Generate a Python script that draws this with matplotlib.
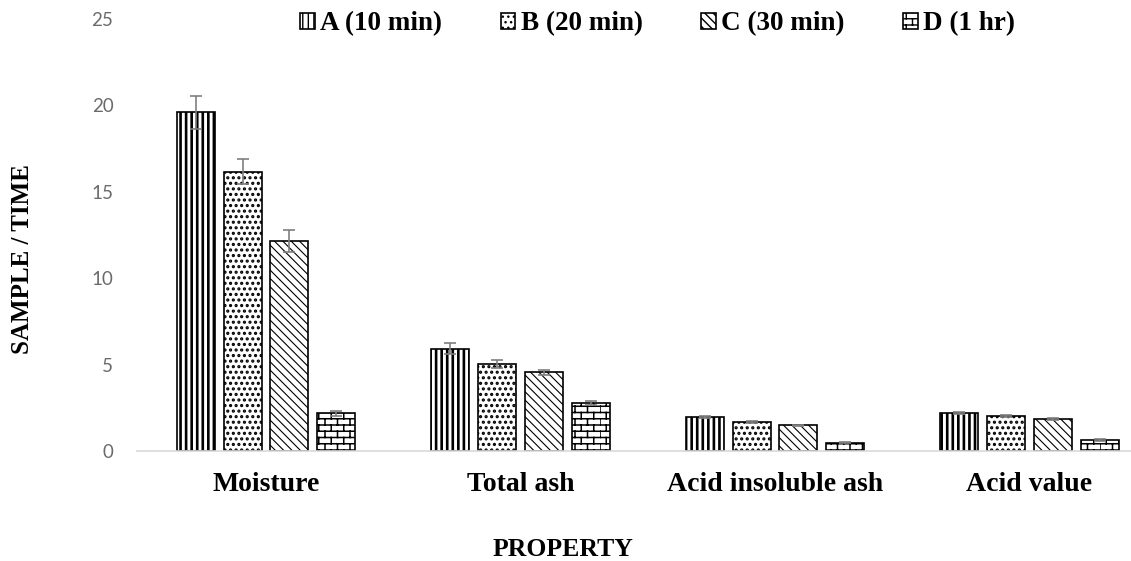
import numpy as np
import matplotlib
matplotlib.use("Agg")
import matplotlib.pyplot as plt
import matplotlib.hatch as mhatch


# ---- custom brick hatch (uses the '*' character) ----
class BrickHatch(mhatch.HatchPatternBase):
    def __init__(self, hatch, density):
        n = hatch.count('*')
        self.rows = 16 * n
        self.cols = 8 * n
        self.num_vertices = 2 * (self.rows + self.rows * self.cols)

    def set_vertices_and_codes(self, vertices, codes):
        from matplotlib.path import Path
        i = 0
        for k in range(self.rows):
            y = k / self.rows
            vertices[i] = (0.0, y); codes[i] = Path.MOVETO; i += 1
            vertices[i] = (1.0, y); codes[i] = Path.LINETO; i += 1
        for k in range(self.rows):
            y0 = k / self.rows
            y1 = (k + 1) / self.rows
            off = 0.5 * (k % 2)
            for j in range(self.cols):
                x = (j + off) / self.cols
                vertices[i] = (x, y0); codes[i] = Path.MOVETO; i += 1
                vertices[i] = (x, y1); codes[i] = Path.LINETO; i += 1


mhatch._hatch_types = [t for t in mhatch._hatch_types
                       if t.__name__ != "Stars"] + [BrickHatch]

# ---- data ----
categories = ["Moisture", "Total ash", "Acid insoluble ash", "Acid value"]
series_names = ["A (10 min)", "B (20 min)", "C (30 min)", "D (1 hr)"]
A_vals = [19.6, 5.93, 1.95, 2.18]
B_vals = [16.17, 5.02, 1.68, 2.03]
C_vals = [12.15, 4.55, 1.49, 1.85]
D_vals = [2.18, 2.78, 0.48, 0.64]
A_err = [0.95, 0.30, 0.05, 0.05]
B_err = [0.70, 0.23, 0.05, 0.05]
C_err = [0.65, 0.16, 0.03, 0.04]
D_err = [0.15, 0.13, 0.03, 0.04]
y_ticks = [0, 5, 10, 15, 20, 25]

values = [A_vals, B_vals, C_vals, D_vals]
errors = [A_err, B_err, C_err, D_err]
hatches = ["|||", "...", "\\\\\\\\", "*"]
hatch_lws = [1.9, 1.5, 0.8, 1.1]

W, H = 1131, 561
fig = plt.figure(figsize=(W / 100, H / 100), dpi=100)
ax = fig.add_axes([137 / W, 1 - 451 / H, 1 - 137 / W, (451 - 19) / H])

x = np.arange(len(categories))
step = 0.1835
bw = 0.149
serif = "Liberation Serif"

handles = []
for i, (vals, errs, h, hl) in enumerate(zip(values, errors, hatches, hatch_lws)):
    with plt.rc_context({"hatch.linewidth": hl}):
        bars = ax.bar(x + (i - 1.5) * step, vals, bw, color="white",
                      edgecolor="black", linewidth=1.2, hatch=h,
                      label=series_names[i], zorder=2)
        for p in bars:
            if hasattr(p, "set_hatch_linewidth"):
                p.set_hatch_linewidth(hl)
    ax.errorbar(x + (i - 1.5) * step, vals, yerr=errs, fmt="none",
                ecolor="#7f7f7f", elinewidth=1.2, capsize=4.3, capthick=1.2,
                zorder=3)
    handles.append(bars)

ax.set_ylim(0, 25)
ax.set_xlim(-(266 - 137) / 254.5, (W - 266) / 254.5)
ax.set_yticks(y_ticks)
ax.set_yticklabels([str(t) for t in y_ticks], fontfamily="Lato",
                   fontsize=13.5, color="#6b6b6b")
ax.set_xticks(x)
ax.set_xticklabels(categories, fontfamily=serif, fontweight="bold",
                   fontsize=20, color="black")
ax.tick_params(axis="y", length=0, pad=17)
ax.tick_params(axis="x", length=0, pad=15)
for s in ["top", "right", "left"]:
    ax.spines[s].set_visible(False)
ax.spines["bottom"].set_color("#d9d9d9")
ax.spines["bottom"].set_linewidth(1.2)

fig.text(563 / W, 1 - 550 / H, "PROPERTY", fontfamily=serif,
         fontweight="bold", fontsize=18.5, ha="center", va="center")
fig.text(23 / W, 1 - 259 / H, "SAMPLE / TIME", fontfamily=serif,
         fontweight="bold", fontsize=18, rotation=90, ha="center",
         va="center")

leg = ax.legend(handles=handles, loc="center left",
                bbox_to_anchor=(300 / W, 1 - 24 / H),
                bbox_transform=fig.transFigure, ncol=4, frameon=False,
                borderpad=0, borderaxespad=0, handlelength=0.55,
                handleheight=0.55, handletextpad=0.2, columnspacing=2.15,
                prop={"family": serif, "weight": "bold", "size": 19.5})

fig.savefig("out.png", dpi=100)
